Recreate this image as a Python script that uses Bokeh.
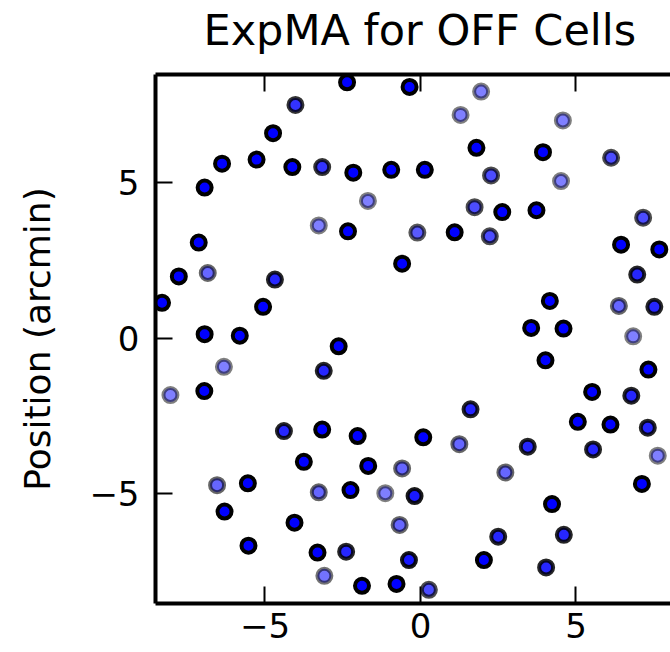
from bokeh.plotting import figure
from bokeh.models import ColumnDataSource, LinearAxis, FixedTicker, Range1d
from bokeh.embed import file_html
from bokeh.resources import INLINE

# Cell positions (arcmin) and their opacity
x_pos = [-2.36, -0.35, -4.02, -4.74, -6.38, -5.27, -4.12, -3.16, -2.16, -0.94,
         -6.94, -1.69, -3.27, -2.33, -7.13, -0.59, -7.77, -6.84, -4.68, -8.31,
         -5.06, -6.94, -5.81, -2.63, -6.32, -3.11, -8.04, -6.95, -4.39, -3.16,
         -2.02, -3.75, -1.68, -0.59, -6.54, -5.55, -3.27, -2.25, -1.13, -0.19,
         -0.67, -6.30, -4.05, -5.53, -3.31, -2.39, -0.37, -3.09, -1.88, -0.77,
         0.27, 6.84, 4.02, 7.33, 5.52, 6.78, 1.61, 5.06, 6.11, 7.31,
         0.09, 1.25, 3.45, 5.55, 7.63, 2.73, 7.12, 4.23, 2.50, 4.61,
         2.04, 4.04, 1.95, 1.29, 4.58, 1.80, 3.94, 6.13, 0.14, 2.27,
         4.52, 1.74, 2.63, 3.73, 7.16, -0.10, 1.10, 2.23, 6.45, 7.68,
         6.97, 4.16, 6.38, 7.52, 3.56, 4.60]
y_pos = [8.24, 8.09, 7.51, 6.60, 5.62, 5.75, 5.51, 5.51, 5.33, 5.42,
         4.85, 4.42, 3.63, 3.44, 3.08, 2.40, 1.99, 2.10, 1.89, 1.14,
         1.01, 0.13, 0.08, -0.26, -0.92, -1.05, -1.83, -1.70, -2.99, -2.94,
         -3.15, -3.98, -4.11, -4.19, -4.73, -4.67, -4.96, -4.89, -4.99, -5.08,
         -6.01, -5.58, -5.94, -6.68, -6.90, -6.87, -7.14, -7.65, -7.97, -7.91,
         -8.10, 0.06, -0.71, -1.01, -1.73, -1.85, -2.29, -2.69, -2.78, -2.88,
         -3.19, -3.41, -3.49, -3.58, -3.78, -4.32, -4.69, -5.34, -6.39, -6.33,
         -7.14, -7.38, 7.94, 7.19, 7.01, 6.13, 5.99, 5.81, 5.42, 5.24,
         5.06, 4.22, 4.06, 4.12, 3.88, 3.40, 3.41, 3.28, 3.01, 2.86,
         2.05, 1.20, 1.04, 1.01, 0.33, 0.31]
opacity = [1, 1, 0.8, 1, 1, 1, 1, 0.8, 1, 1,
           1, 0.5, 0.5, 1, 1, 1, 1, 0.6, 0.85, 1,
           1, 1, 1, 1, 0.5, 0.85, 0.5, 1, 0.85, 1,
           1, 1, 1, 0.6, 0.6, 1, 0.6, 1, 0.5, 0.9,
           0.6, 1, 1, 1, 1, 0.85, 0.9, 0.55, 1, 1,
           0.7, 0.5, 1, 1, 1, 0.85, 0.85, 1, 1, 0.85,
           1, 0.6, 0.85, 0.85, 0.5, 0.6, 1, 1, 0.85, 0.85,
           1, 0.85, 0.5, 0.5, 0.5, 1, 1, 0.7, 1, 0.7,
           0.5, 0.7, 1, 1, 0.7, 0.65, 1, 0.7, 1, 1,
           0.85, 1, 0.6, 0.85, 1, 1]

ticks = [-5, 0, 5]
tick_labels = {-5: "\u22125", 0: "0", 5: "5"}
blank_labels = {-5: "", 0: "", 5: ""}

FONT = "DejaVu Sans"

source = ColumnDataSource(dict(x=x_pos, y=y_pos, a=opacity))

p = figure(width=670, height=652, output_backend="svg", toolbar_location=None,
           x_range=Range1d(-8.52, 8.04), y_range=Range1d(-8.54, 8.49),
           x_axis_location=None, y_axis_location=None,
           min_border_left=155, min_border_right=0, min_border_top=74,
           min_border_bottom=49)
p.title.text = "ExpMA for OFF Cells"
p.title.text_font = FONT
p.title.text_font_size = "43px"
p.title.text_font_style = "normal"
p.title.text_color = "#000000"
p.title.align = "left"
p.title.offset = 48
p.title.standoff = 0

p.grid.visible = False
p.outline_line_color = None
p.background_fill_color = "white"
p.border_fill_color = "white"

p.scatter("x", "y", source=source, size=14, fill_color="#0000ff",
          line_color="black", line_width=4, fill_alpha="a", line_alpha="a")


def style(ax, labels):
    ax.ticker = FixedTicker(ticks=ticks)
    ax.major_tick_in = 17
    ax.major_tick_out = 0
    ax.minor_tick_line_color = None
    ax.major_tick_line_width = 2
    ax.major_tick_line_color = "black"
    ax.axis_line_width = 4
    ax.axis_line_color = "black"
    ax.major_label_overrides = labels
    ax.major_label_text_font = FONT
    ax.major_label_text_font_size = "34px"
    ax.major_label_text_color = "black"


xb = LinearAxis()
style(xb, tick_labels)
xb.major_label_standoff = 9
p.add_layout(xb, "below")

yl = LinearAxis(axis_label="Position (arcmin)")
style(yl, tick_labels)
yl.major_label_standoff = 16
yl.axis_label_text_font = FONT
yl.axis_label_text_font_size = "36px"
yl.axis_label_text_font_style = "normal"
yl.axis_label_text_color = "black"
yl.axis_label_standoff = 28
p.add_layout(yl, "left")

# top frame line with inward ticks
xt = LinearAxis()
style(xt, blank_labels)
xt.major_label_standoff = 0
p.add_layout(xt, "above")

# invisible spacer between the top frame and the title
spacer = LinearAxis()
style(spacer, blank_labels)
spacer.major_label_standoff = 0
spacer.major_tick_in = 0
spacer.major_tick_out = 20
spacer.major_tick_line_color = None
spacer.axis_line_color = None
p.add_layout(spacer, "above")

open("out.html", "w").write(file_html(p, INLINE))
